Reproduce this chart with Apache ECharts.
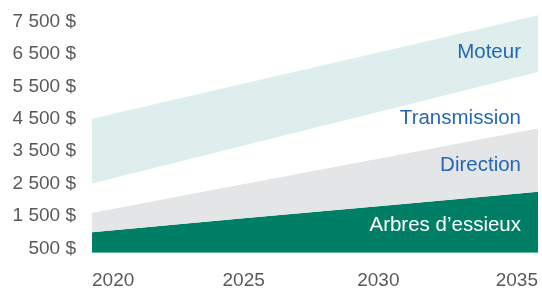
<!DOCTYPE html>
<html>
<head>
<meta charset="utf-8">
<script src="https://cdn.jsdelivr.net/npm/echarts@6/dist/echarts.min.js"></script>
<style>
  html, body { margin: 0; padding: 0; background: #fff; }
  #chart { width: 542px; height: 290px; }
</style>
</head>
<body>
<div id="chart"></div>
<script>
// années (axe x)
var years = ['2020', '2025', '2030', '2035'];

// valeurs par segment, empilées (en $)
var arbres = [1000, 1420, 1830, 2250];
var direction = [600, 1050, 1510, 1960];
var transmission = [900, 1180, 1460, 1740];
var moteur = [2000, 1920, 1830, 1750];

// graduations de l'axe y
var yTicks = [500, 1500, 2500, 3500, 4500, 5500, 6500, 7500];

var font = 'Liberation Sans, Arial, sans-serif';

function fmtDollar(v) {
    var s = String(v);
    if (v >= 1000) {
        s = Math.floor(v / 1000) + ' ' + String(v % 1000).padStart(3, '0');
    }
    return s + ' $';
}

function band(name, data, color) {
    return {
        name: name,
        type: 'line',
        stack: 'total',
        data: data,
        symbol: 'none',
        lineStyle: { width: 0 },
        areaStyle: { color: color, opacity: 1 },
        silent: true
    };
}

function bandLabel(text, y, color) {
    return {
        type: 'text',
        z: 100,
        x: 521,
        y: y,
        style: {
            text: text,
            font: '20.5px ' + font,
            fill: color,
            align: 'right',
            verticalAlign: 'middle'
        }
    };
}

var chart = echarts.init(document.getElementById('chart'));

chart.setOption({
    animation: false,
    grid: {
        left: 92,
        right: 4,
        top: 8.8,
        bottom: 38
    },
    xAxis: {
        type: 'category',
        data: years,
        boundaryGap: false,
        axisLine: { show: true, lineStyle: { color: '#5cb8a4', width: 1 } },
        axisTick: { show: false },
        axisLabel: {
            margin: 19,
            fontFamily: font,
            fontSize: 19,
            color: '#595959',
            alignMinLabel: 'left',
            alignMaxLabel: 'right',
            formatter: function (v) {
                if (v === '2025') return '{a|' + v + '}';
                if (v === '2030') return '{b|' + v + '}';
                return v;
            },
            rich: {
                a: { fontFamily: font, fontSize: 19, color: '#595959', padding: [0, 0, 0, 6] },
                b: { fontFamily: font, fontSize: 19, color: '#595959', padding: [0, 22, 0, 0] }
            }
        },
        splitLine: { show: false }
    },
    yAxis: {
        type: 'value',
        min: 386,
        max: 7900,
        axisLine: { show: false },
        axisTick: { show: false },
        splitLine: { show: false },
        axisLabel: {
            customValues: yTicks,
            margin: 16,
            fontFamily: font,
            fontSize: 19,
            color: '#595959',
            formatter: fmtDollar
        }
    },
    series: [
        band('Arbres d’essieux', arbres, '#007f66'),
        band('Direction', direction, '#e4e5e7'),
        band('Transmission', transmission, '#ffffff'),
        band('Moteur', moteur, '#deeeed')
    ],
    graphic: [
        bandLabel('Moteur', 52, '#2568b2'),
        bandLabel('Transmission', 118, '#2568b2'),
        bandLabel('Direction', 165, '#2568b2'),
        bandLabel('Arbres d’essieux', 225, '#ffffff')
    ]
});
</script>
</body>
</html>
